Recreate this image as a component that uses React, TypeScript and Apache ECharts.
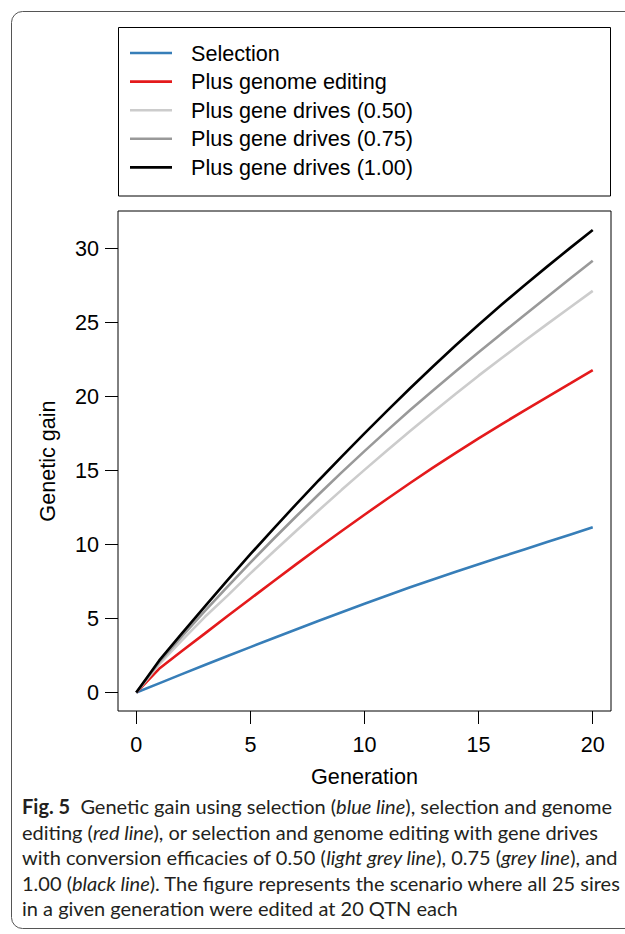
import React, { useEffect, useRef } from "react";
import * as echarts from "echarts";

const generations = [0, 1, 2, 3, 4, 5, 6, 7, 8, 9, 10, 11, 12, 13, 14, 15, 16, 17, 18, 19, 20];
const selection = [0, 0.62, 1.24, 1.86, 2.47, 3.07, 3.67, 4.26, 4.85, 5.43, 6.0, 6.56, 7.11, 7.64, 8.16, 8.67, 9.17, 9.67, 10.17, 10.67, 11.17];
const genomeEditing = [0, 1.6, 2.8, 3.98, 5.17, 6.34, 7.5, 8.66, 9.8, 10.92, 12.02, 13.1, 14.16, 15.2, 16.2, 17.18, 18.13, 19.06, 19.97, 20.88, 21.8];
const geneDrives050 = [0, 1.9, 3.52, 5.1, 6.55, 8.05, 9.5, 10.92, 12.32, 13.7, 15.05, 16.38, 17.68, 18.95, 20.2, 21.42, 22.6, 23.76, 24.9, 26.03, 27.15];
const geneDrives075 = [0, 2.05, 3.8, 5.5, 7.16, 8.78, 10.36, 11.9, 13.4, 14.88, 16.32, 17.72, 19.1, 20.42, 21.72, 23.0, 24.26, 25.5, 26.74, 27.97, 29.19];
const geneDrives100 = [0, 2.15, 4.0, 5.8, 7.6, 9.35, 11.05, 12.72, 14.35, 15.95, 17.52, 19.06, 20.57, 22.04, 23.47, 24.86, 26.21, 27.52, 28.79, 30.04, 31.26];

const seriesNames = [
  "Selection",
  "Plus genome editing",
  "Plus gene drives (0.50)",
  "Plus gene drives (0.75)",
  "Plus gene drives (1.00)",
];
const seriesValues = [selection, genomeEditing, geneDrives050, geneDrives075, geneDrives100];
const seriesColors = ["#377EB8", "#E41A1C", "#CCCCCC", "#999999", "#000000"];

const xTicks = [0, 5, 10, 15, 20];
const yTicks = [0, 5, 10, 15, 20, 25, 30];
const xTitle = "Generation";
const yTitle = "Genetic gain";

const captionLines = [
  "{b|Fig. 5}  Genetic gain using selection ({i|blue line}), selection and genome",
  "editing ({i|red line}), or selection and genome editing with gene drives",
  "with conversion efficacies of 0.50 ({i|light grey line}), 0.75 ({i|grey line}), and",
  "1.00 ({i|black line}). The figure represents the scenario where all 25 sires",
  "in a given generation were edited at 20 QTN each",
];

const FONT = "'Liberation Sans', Arial, Helvetica, sans-serif";
const CAPTION_FONT = "Lato, 'Open Sans', sans-serif";
const FS = 21.6;
const CFS = 20;

export default function App() {
  const ref = useRef<HTMLDivElement>(null);

  useEffect(() => {
    document.body.style.margin = "0";
    const chart = echarts.init(ref.current!, null, { renderer: "svg" });

    const series = seriesNames.map((name, i) => ({
      name,
      type: "line",
      data: generations.map((g, j) => [g, seriesValues[i][j]]),
      symbol: "none",
      showSymbol: false,
      smooth: false,
      lineStyle: { color: seriesColors[i], width: 2.6 },
      itemStyle: { color: seriesColors[i] },
      z: 2 + i,
    }));

    const captionGraphics = captionLines.map((line, i) => ({
      type: "text",
      x: 22,
      y: 806 + i * 25.5,
      style: {
        text: line,
        fill: "#231f20",
        font: `${CFS}px ${CAPTION_FONT}`,
        verticalAlign: "middle",
        align: "left",
        rich: {
          b: { fontWeight: "bold", fontSize: CFS, fontFamily: CAPTION_FONT, fill: "#231f20" },
          i: { fontStyle: "italic", fontSize: CFS, fontFamily: CAPTION_FONT, fill: "#231f20" },
        },
      },
    }));

    chart.setOption({
      animation: false,
      backgroundColor: "#ffffff",
      grid: {
        left: 118,
        top: 211,
        width: 493,
        height: 500,
        show: true,
        borderColor: "#000",
        borderWidth: 1,
        backgroundColor: "transparent",
      },
      legend: {
        data: seriesNames,
        orient: "vertical",
        left: 130,
        top: 42,
        padding: 0,
        icon: "rect",
        itemWidth: 42,
        itemHeight: 2.6,
        itemGap: 6.6,
        selectedMode: false,
        textStyle: {
          fontFamily: FONT,
          fontSize: FS,
          lineHeight: 22,
          color: "#000",
          padding: [0, 0, 0, 14],
        },
      },
      xAxis: {
        type: "value",
        min: -0.8,
        max: 20.8,
        name: xTitle,
        nameLocation: "middle",
        nameGap: 54,
        nameTextStyle: { fontFamily: FONT, fontSize: FS, color: "#000" },
        axisLine: { show: false, onZero: false },
        splitLine: { show: false },
        axisTick: {
          show: true,
          customValues: xTicks,
          length: 13,
          inside: false,
          lineStyle: { color: "#000", width: 1 },
        },
        axisLabel: {
          customValues: xTicks,
          margin: 22,
          fontFamily: FONT,
          fontSize: FS,
          color: "#000",
        },
      },
      yAxis: {
        type: "value",
        min: -1.25,
        max: 32.55,
        name: yTitle,
        nameLocation: "middle",
        nameGap: 60,
        nameTextStyle: { fontFamily: FONT, fontSize: FS, color: "#000" },
        axisLine: { show: false, onZero: false },
        splitLine: { show: false },
        axisTick: {
          show: true,
          customValues: yTicks,
          length: 13,
          inside: false,
          lineStyle: { color: "#000", width: 1 },
        },
        axisLabel: {
          customValues: yTicks,
          margin: 19,
          fontFamily: FONT,
          fontSize: FS,
          color: "#000",
        },
      },
      graphic: [
        {
          type: "rect",
          shape: { x: 11.5, y: 11.5, width: 640, height: 917, r: 11 },
          style: { fill: "none", stroke: "#555", lineWidth: 1 },
          silent: true,
          z: 0,
        },
        {
          type: "rect",
          shape: { x: 118.5, y: 27.5, width: 492, height: 168.5 },
          style: { fill: "none", stroke: "#000", lineWidth: 1 },
          silent: true,
        },
        ...captionGraphics,
      ],
      series,
    });

    return () => chart.dispose();
  }, []);

  return <div ref={ref} style={{ width: 625, height: 934 }} />;
}
